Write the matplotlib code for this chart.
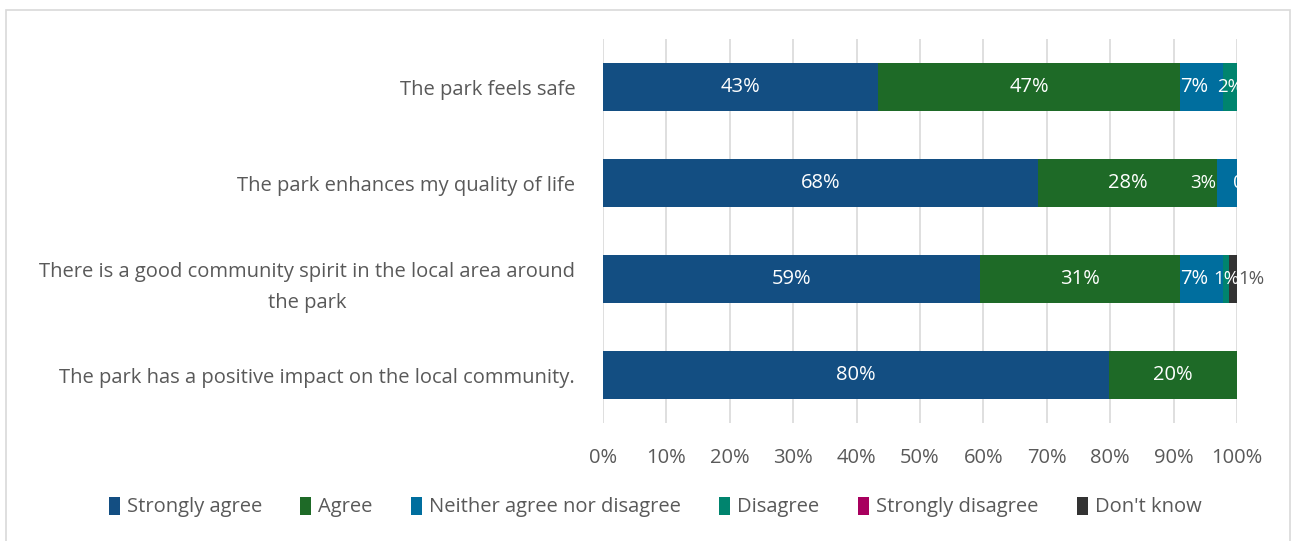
import matplotlib.pyplot as plt
from matplotlib.patches import Rectangle
import numpy as np

plt.rcParams['font.family'] = ['Open Sans', 'DejaVu Sans']

categories = [
    "The park feels safe",
    "The park enhances my quality of life",
    "There is a good community spirit in the local area around\nthe park",
    "The park has a positive impact on the local community.",
]
series = ["Strongly agree", "Agree", "Neither agree nor disagree",
          "Disagree", "Strongly disagree", "Don't know"]
strongly_agree = [43.4, 68.6, 59.5, 79.8]
agree = [47.6, 28.2, 31.5, 20.2]
neither = [6.8, 3.2, 6.8, 0.0]
disagree = [2.2, 0.0, 0.9, 0.0]
strongly_disagree = [0.0, 0.0, 0.0, 0.0]
dont_know = [0.0, 0.0, 1.3, 0.0]
# labels shown on the chart (None = no label)
labels = [
    ["43%", "47%", "7%", "2%", None, None],
    ["68%", "28%", "3%", "0%", None, None],
    ["59%", "31%", "7%", "1%", None, "1%"],
    ["80%", "20%", None, None, None, None],
]
colors = ["#134E82", "#1E6A27", "#006E9E", "#00846E", "#A8005E", "#333333"]
text_gray = "#595959"

values = np.array([strongly_agree, agree, neither, disagree,
                   strongly_disagree, dont_know])

fig = plt.figure(figsize=(12.93, 5.41), dpi=100)
ax = fig.add_axes([603 / 1293, 1 - 423 / 541, 634 / 1293, 384 / 541])

# outer chart border
fig.patches.append(Rectangle((6 / 1293, -0.1), 1284 / 1293, 1.1 - 10 / 541,
                             transform=fig.transFigure, fill=False,
                             edgecolor="#d9d9d9", linewidth=1.2))

y = np.arange(len(categories))
left = np.zeros(len(categories))
for i, name in enumerate(series):
    ax.barh(y, values[i], left=left, height=0.49, color=colors[i],
            label=name, zorder=3)
    for j in range(len(categories)):
        lab = labels[j][i]
        if lab is None:
            continue
        cx = left[j] + values[i][j] / 2
        col = "white"
        if name == "Don't know":
            cx = left[j] + values[i][j] + 2.2
            col = text_gray
        if name == "Neither agree nor disagree":
            cx -= 1.2
        if name == "Disagree" and values[i][j] == 0:
            cx = left[j] + 1.4
        if name == "Neither agree nor disagree" and j == 1:
            cx = left[j] - 2.2
        ax.text(cx, y[j], lab, ha="center", va="center", color=col,
                fontsize=14.5 if values[i][j] > 5 else 13.5, zorder=4)
    left += values[i]

ax.set_xlim(0, 100)
ax.set_ylim(3.5, -0.5)
ax.set_xticks(np.arange(0, 101, 10))
ax.set_xticklabels([f"{v}%" for v in range(0, 101, 10)])
ax.set_yticks(y)
ax.set_yticklabels(categories, multialignment="center", linespacing=1.75)
ax.tick_params(axis="both", length=0, labelsize=14.5, labelcolor=text_gray)
ax.tick_params(axis="x", pad=18)
ax.tick_params(axis="y", pad=20)
ax.grid(axis="x", color="#d9d9d9", linewidth=1.2, zorder=0)
for s in ax.spines.values():
    s.set_visible(False)

leg = fig.legend(loc="center", bbox_to_anchor=(655 / 1293, 1 - 507 / 541),
                 ncol=6, frameon=False, fontsize=14.5, handlelength=0.55,
                 handleheight=1.0, handletextpad=0.35, columnspacing=1.9)
for t in leg.get_texts():
    t.set_color(text_gray)

fig.savefig("out.png", dpi=100)
